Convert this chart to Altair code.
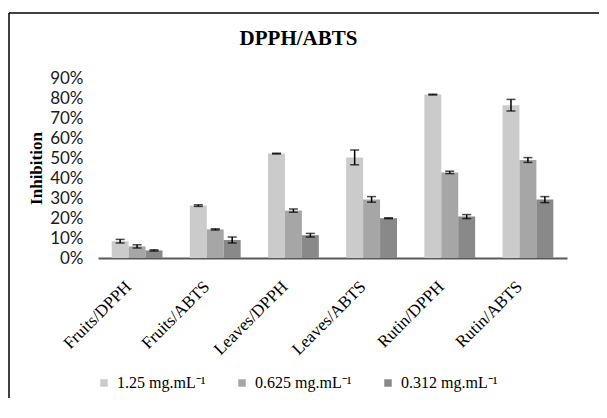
import altair as alt
import pandas as pd

groups = ["Fruits/DPPH", "Fruits/ABTS", "Leaves/DPPH", "Leaves/ABTS", "Rutin/DPPH", "Rutin/ABTS"]
concs = ["1.25 mg.mL⁻¹", "0.625 mg.mL⁻¹", "0.312 mg.mL⁻¹"]

# inhibition (%) and error (+/- %)
v125 = [8.4, 26.2, 52.2, 50.3, 81.7, 76.4]
e125 = [0.9, 0.4, 0.2, 3.7, 0.2, 2.9]
v0625 = [5.8, 14.3, 23.7, 29.3, 42.8, 49.0]
e0625 = [0.8, 0.3, 0.8, 1.4, 0.6, 1.2]
v0312 = [3.8, 9.0, 11.4, 19.9, 20.7, 29.2]
e0312 = [0.3, 1.5, 0.9, 0.2, 1.0, 1.5]
ticks = [0, 10, 20, 30, 40, 50, 60, 70, 80, 90]

colors = ["#cbcbcb", "#a6a6a6", "#898989"]

rows = []
for i, g in enumerate(groups):
    for c, vals, errs in zip(concs, [v125, v0625, v0312], [e125, e0625, e0312]):
        rows.append(dict(group=g, conc=c, value=vals[i] / 100,
                         lo=(vals[i] - errs[i]) / 100, hi=(vals[i] + errs[i]) / 100))
df = pd.DataFrame(rows)

xenc = alt.X("group:N", sort=groups, title=None,
             scale=alt.Scale(paddingInner=0.35, paddingOuter=0.175),
             axis=alt.Axis(labelAngle=-45, labelFont="Liberation Serif", labelFontSize=17,
                           labelColor="black", ticks=False, domainColor="#595959",
                           domainWidth=2, labelPadding=20, labelOffset=-14))
xoff = alt.XOffset("conc:N", sort=concs, scale=alt.Scale(paddingInner=0, paddingOuter=0))

yaxis = alt.Axis(format=".0%", values=[t / 100 for t in ticks], labelFont="Lato",
                 labelFontSize=17, labelColor="#1a1a1a", labelPadding=15, domain=False,
                 ticks=False, grid=False, labelOverlap=False, labelFlush=False,
                 titleFont="Liberation Serif",
                 titleFontSize=17, titleFontWeight="bold", titleColor="black", titlePadding=4)
yscale = alt.Scale(domain=[0, 0.9], nice=False)

base = alt.Chart(df).encode(x=xenc, xOffset=xoff)

bars = base.mark_bar().encode(
    y=alt.Y("value:Q", scale=yscale, axis=yaxis, title="Inhibition"),
    color=alt.Color("conc:N", sort=concs, scale=alt.Scale(domain=concs, range=colors),
                    legend=alt.Legend(orient="none", legendX=-2, legendY=297, direction="horizontal",
                                      title=None, symbolType="square", symbolSize=56,
                                      symbolStrokeWidth=0, labelFont="Liberation Serif",
                                      labelFontSize=16, labelColor="black", columnPadding=28,
                                      labelOffset=5)),
)

errs = base.mark_errorbar(ticks=True, size=9, thickness=1.5, color="black").encode(
    y=alt.Y("lo:Q", scale=yscale, axis=yaxis, title="Inhibition"),
    y2="hi:Q",
)

frame_data = alt.Data(values=[{}])
frame_left = alt.Chart(frame_data).mark_rule(color="black", strokeWidth=1.5).encode(
    x=alt.value(-89), y=alt.value(-65), y2=alt.value(330))
frame_top = alt.Chart(frame_data).mark_rule(color="black", strokeWidth=1.5).encode(
    x=alt.value(-89), x2=alt.value(520), y=alt.value(-65))

chart = alt.layer(frame_left, frame_top, bars, errs).properties(
    width=469, height=180,
    padding={"left": 90, "top": 70, "right": 32, "bottom": 140},
    autosize=alt.AutoSizeParams(type="none"),
    title=alt.TitleParams("DPPH/ABTS", font="Liberation Serif", fontSize=21, fontWeight="bold",
                          color="black", anchor="middle", dx=-34, offset=-37),
).configure(background="white").configure_view(stroke=None)

chart.save("out.html", embed_options={"renderer": "svg", "actions": False})
